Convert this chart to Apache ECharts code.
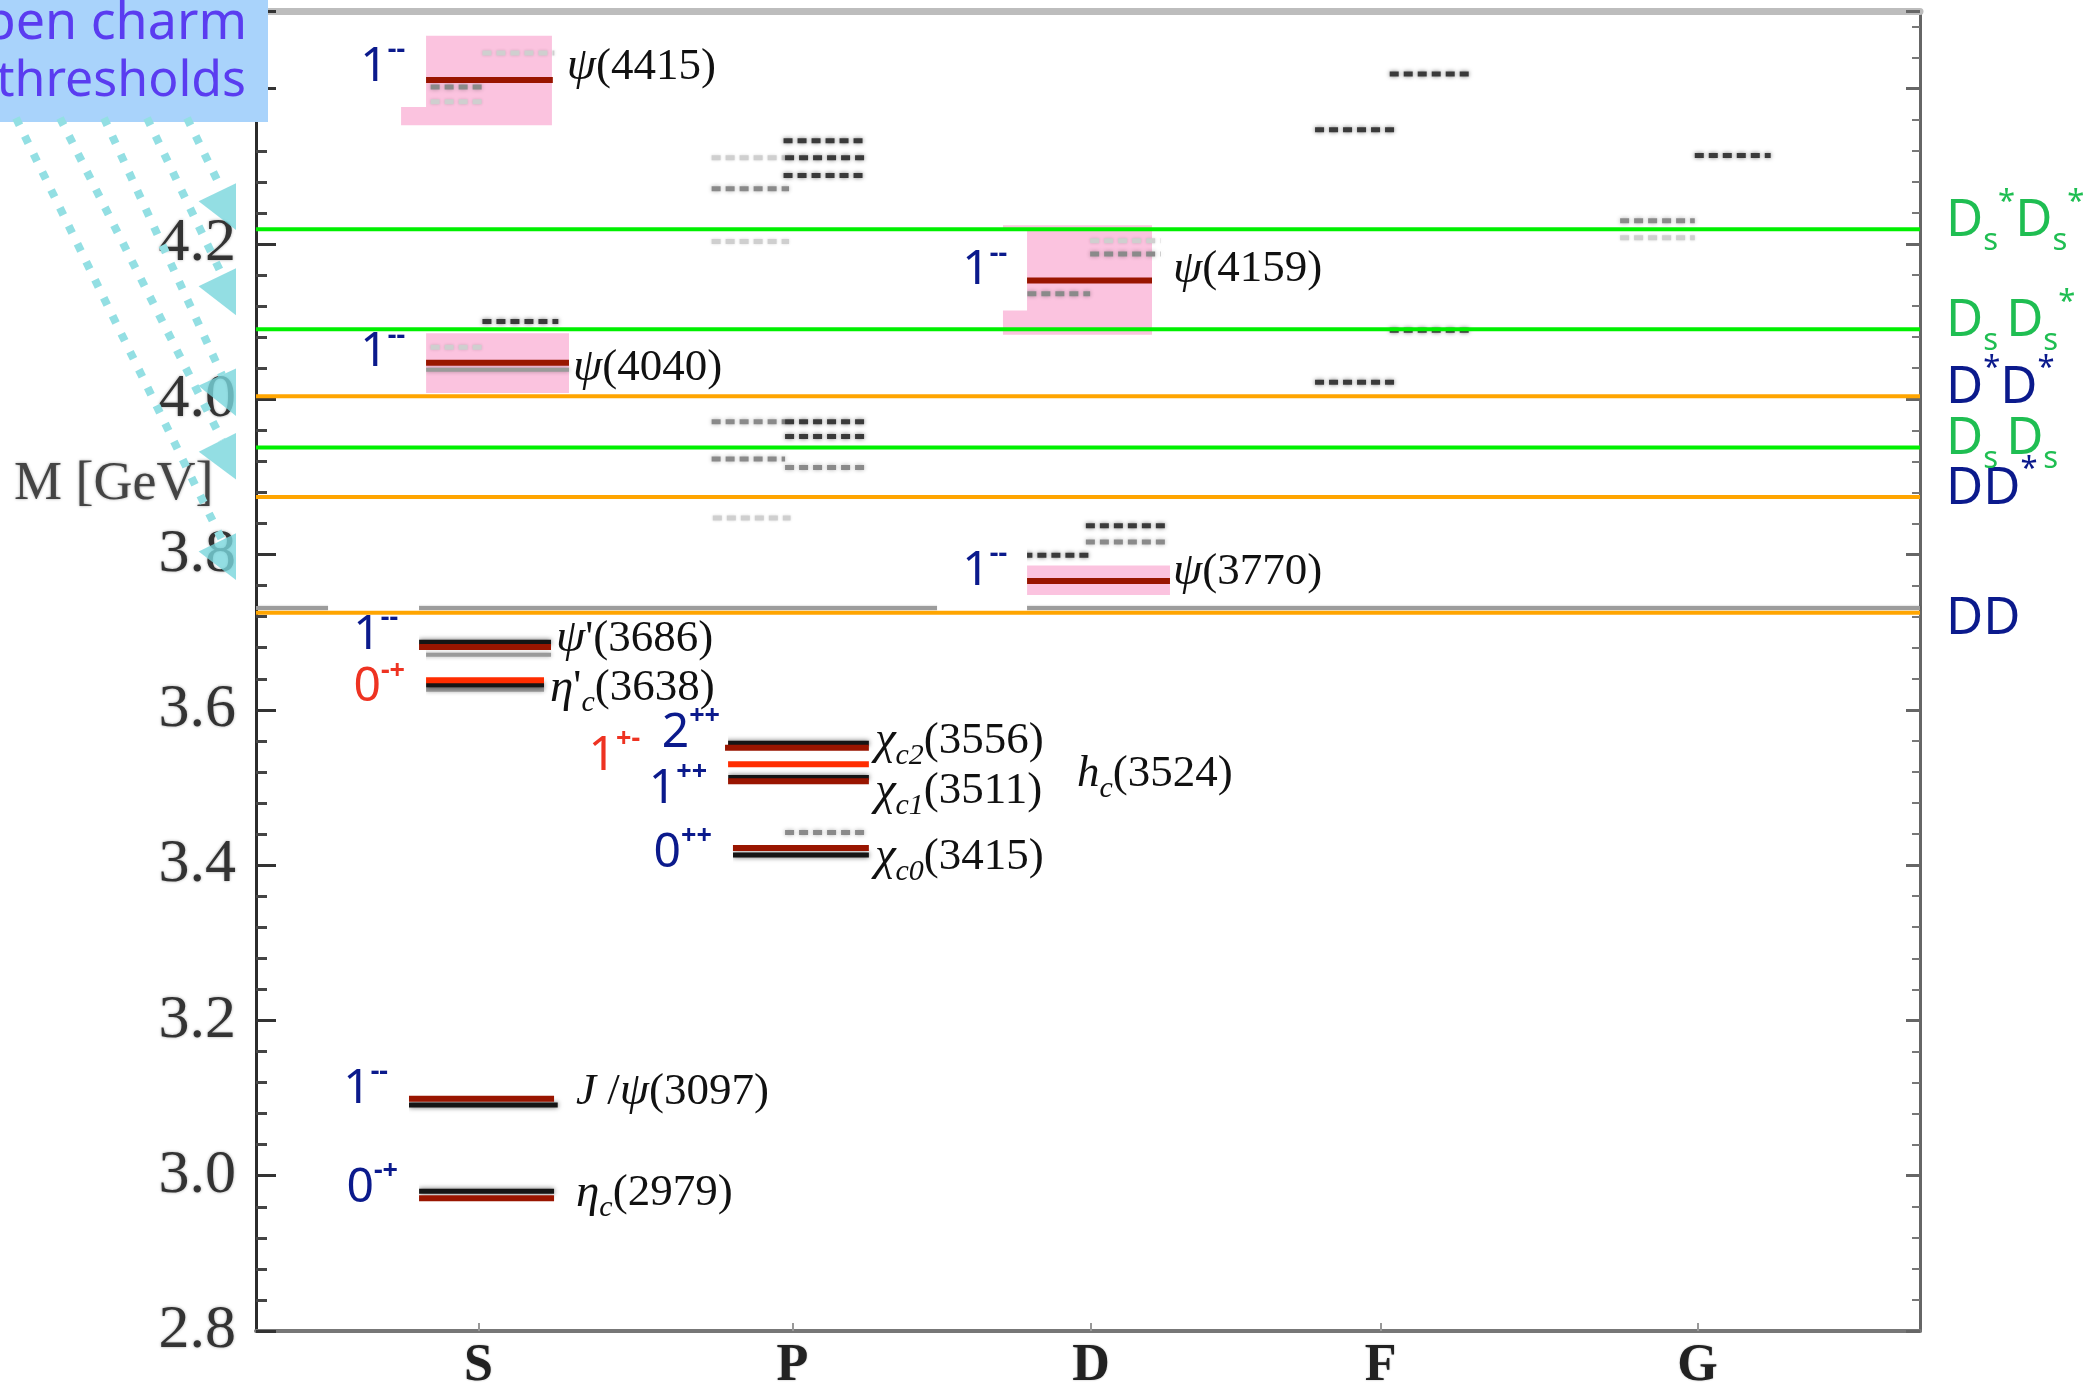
<!DOCTYPE html>
<html>
<head>
<meta charset="utf-8">
<title>Charmonium spectrum</title>
<script src="https://cdn.jsdelivr.net/npm/echarts@6.0.0/dist/echarts.min.js"></script>
<style>
  html, body { margin: 0; padding: 0; background: #fff; }
  #chart { width: 2090px; height: 1393px; }
</style>
</head>
<body>
<div id="chart"></div>
<script>
// orbital waves on the x axis and where their labels sit (S = 1 ... G = 5)
var waves = ['S', 'P', 'D', 'F', 'G'];
var waveAt = [1, 2.03, 3.01, 3.96, 5];

// observed charmonium states: x span in wave units, mass in GeV
var stateName = ['ηc(2979)', 'J/ψ(3097)', "η'c(3638)", "ψ'(3686)", 'ψ(4040)', 'ψ(4415)',
                 'χc0(3415)', 'χc1(3511)', 'hc(3524)', 'χc2(3556)', 'ψ(3770)', 'ψ(4159)'];
var stateJpc  = ['0-+', '1--', '0-+', '1--', '1--', '1--', '0++', '1++', '1+-', '2++', '1--', '1--'];
var stateFrom = [0.805, 0.772, 0.828, 0.805, 0.828, 0.828, 1.835, 1.819, 1.819, 1.809, 2.800, 2.800];
var stateTo   = [1.248, 1.248, 1.215, 1.238, 1.297, 1.244, 2.281, 2.281, 2.281, 2.281, 3.269, 3.210];
var stateMass = [2.971, 3.099, 3.638, 3.681, 4.047, 4.411, 3.422, 3.508, 3.530, 3.551, 3.766, 4.153];
var stateNew  = [0, 0, 1, 0, 0, 0, 0, 0, 1, 0, 0, 0];

// widths of the broad vector states: [x from, x to, mass low, mass high]
var widthBand = [
  [0.746, 1.241, 4.353, 4.468],
  [0.828, 1.297, 4.008, 4.085],
  [2.721, 3.210, 4.083, 4.224],
  [2.800, 3.269, 3.748, 3.786]
];

// model predictions under the observed lines: [x from, x to, mass]
var modelSolid = [
  [0.805, 1.248, 2.980], [0.772, 1.260, 3.091], [0.805, 1.238, 3.687], [0.828, 1.215, 3.632],
  [1.809, 2.281, 3.557], [1.819, 2.281, 3.513], [1.835, 2.281, 3.413]
];
var modelGrey = [[0.805, 1.238, 3.671], [0.828, 1.215, 3.626], [0.828, 1.297, 4.038]];

// predicted (unobserved) levels drawn as dashes: [x from, x to, mass]
var predDark = [
  [1.013, 1.262, 4.100], [2.001, 2.268, 4.333], [2.006, 2.268, 4.311], [2.001, 2.268, 4.288],
  [2.006, 2.268, 3.971], [2.006, 2.268, 3.952], [2.993, 3.260, 3.837], [2.788, 3.011, 3.799],
  [3.990, 4.257, 4.419], [3.745, 4.008, 4.347], [3.990, 4.257, 4.089], [3.745, 4.008, 4.022],
  [4.991, 5.240, 4.314]
];
var predMid = [
  [0.843, 1.022, 4.402], [1.765, 2.019, 4.271], [1.765, 2.006, 3.971], [1.765, 2.006, 3.923],
  [2.006, 2.268, 3.912], [2.006, 2.272, 3.442], [3.007, 3.238, 4.187], [2.801, 3.007, 4.136],
  [2.993, 3.260, 3.816], [4.746, 4.991, 4.230]
];
var predLight = [
  [1.013, 1.249, 4.446], [0.843, 1.022, 4.383], [0.843, 1.022, 4.067], [1.765, 2.006, 4.311],
  [1.765, 2.019, 4.203], [1.769, 2.024, 3.847], [3.007, 3.238, 4.204], [4.746, 4.991, 4.208]
];

// open charm thresholds (GeV)
var thresholdName = ['DD', 'DD*', 'Ds Ds', 'D*D*', 'Ds Ds*', 'Ds*Ds*'];
var thresholdMass = [3.725, 3.874, 3.938, 4.004, 4.090, 4.219];
var thresholdStrange = [0, 0, 1, 0, 1, 1];
var greyEdgeMass = 3.731;   // grey line of the underlying plot just above DD

var serif = '"Liberation Serif", "DejaVu Serif", serif';
var hand = '"Comic Sans MS", "Noto Sans", sans-serif';
var NAVY = '#0b1a8c', RED = '#ee3322', GREEN = '#1fbe52';

// label nudges (pixels) where the original placement differs from the default
var tweak = {
  "η'c(3638)": { jpcDy: 7, nameDy: 8 },
  'χc2(3556)': { jpcGap: 5, jpcDy: -15, nameDy: -7 },
  'χc1(3511)': { jpcDy: 8, nameDy: 10 },
  'χc0(3415)': { jpcDy: 5, nameDy: 9 },
  'hc(3524)':  { jpcGap: 88, jpcDy: -8, nameGap: 208, nameDy: 10 },
  'ψ(4415)':   { jpcDy: -13, nameGap: 14, nameDy: -13 },
  'ψ(4040)':   { nameGap: 4, nameDy: 5 },
  'ψ(4159)':   { jpcGap: 20, nameGap: 21, nameDy: -11 },
  'ψ(3770)':   { jpcGap: 20, nameGap: 3 },
  "ψ'(3686)":  { jpcDy: -12, nameGap: 5, nameDy: -8 },
  'J/ψ(3097)': { nameGap: 22, nameDy: -7 },
  'ηc(2979)':  { nameGap: 22, nameDy: -5 }
};

function richName(s) {
  var m = s.match(/^(J\/)?([ψηχh])(')?(c\d?)?(\(\d+\))$/);
  var out = '';
  if (m[1]) out += '{it|J}{rm| /}';
  out += m[2] === 'h' ? '{it|h}' : '{gr|' + m[2] + '}';
  if (m[3]) out += "{rm|'}";
  if (m[4]) out += '{sub|' + m[4] + '}';
  return out + '{rm|' + m[5] + '}';
}
function richJpc(s) {
  return '{n|' + s.charAt(0) + '}{p|' + s.slice(1) + '}';
}
function richPair(s) {
  return s.split('').map(function (c) {
    if (c === 'D') return '{d|D}';
    if (c === '*') return '{t|*}';
    return '{s|' + c + '}';
  }).join('');
}

var nameRich = {
  gr: { fontFamily: serif, fontStyle: 'italic', fontSize: 47, lineHeight: 60, verticalAlign: 'middle', fill: '#111' },
  it: { fontFamily: serif, fontStyle: 'italic', fontSize: 45, lineHeight: 60, verticalAlign: 'middle', fill: '#111' },
  rm: { fontFamily: serif, fontSize: 45, lineHeight: 60, verticalAlign: 'middle', fill: '#111' },
  sub: { fontFamily: serif, fontStyle: 'italic', fontSize: 30, lineHeight: 28, verticalAlign: 'bottom', fill: '#111' }
};
function jpcRich(color) {
  return {
    n: { fontFamily: hand, fontSize: 48, lineHeight: 60, verticalAlign: 'middle', fill: color },
    p: { fontFamily: hand, fontSize: 27, lineHeight: 40, verticalAlign: 'top', fill: color, fontWeight: 'bold' }
  };
}
function pairRich(color) {
  return {
    d: { fontFamily: hand, fontSize: 51, lineHeight: 70, verticalAlign: 'middle', fill: color },
    s: { fontFamily: hand, fontSize: 31, lineHeight: 30, verticalAlign: 'bottom', fill: color },
    t: { fontFamily: hand, fontSize: 31, lineHeight: 36, verticalAlign: 'top', fill: color }
  };
}

function segmentSeries(rows, style, z) {
  return {
    type: 'custom', z: z, silent: true,
    data: rows,
    encode: { x: [0, 1], y: 2 },
    renderItem: function (params, api) {
      var a = api.coord([api.value(0), api.value(2)]);
      var b = api.coord([api.value(1), api.value(2)]);
      return { type: 'line', shape: { x1: a[0], y1: a[1], x2: b[0], y2: b[1] }, style: style };
    }
  };
}

var stateRows = stateMass.map(function (m, i) { return [stateFrom[i], stateTo[i], m]; });

function jpcPlace(i, api) {
  var a = api.coord([stateFrom[i], stateMass[i]]);
  var t = tweak[stateName[i]] || {};
  return [a[0] - (t.jpcGap != null ? t.jpcGap : 21), a[1] + (t.jpcDy != null ? t.jpcDy : -10), a[0]];
}

var chart = echarts.init(document.getElementById('chart'), null, { renderer: 'canvas' });

var series = [
  // resonance widths
  {
    type: 'custom', z: 1, silent: true,
    data: widthBand,
    encode: { x: [0, 1], y: [2, 3] },
    renderItem: function (params, api) {
      var p1 = api.coord([api.value(0), api.value(3)]);
      var p2 = api.coord([api.value(1), api.value(2)]);
      return { type: 'rect', shape: { x: p1[0], y: p1[1], width: p2[0] - p1[0], height: p2[1] - p1[1] },
               style: { fill: '#fbc3df' } };
    }
  },
  segmentSeries(predLight, { stroke: '#cfcfcf', lineWidth: 5, lineDash: [9, 5], shadowBlur: 3, shadowColor: 'rgba(0,0,0,0.15)' }, 2),
  segmentSeries(predMid, { stroke: '#8a8a8a', lineWidth: 5, lineDash: [9, 5], shadowBlur: 4, shadowColor: 'rgba(0,0,0,0.3)' }, 2),
  segmentSeries(predDark, { stroke: '#3a3a3a', lineWidth: 5, lineDash: [9, 5], shadowBlur: 4, shadowColor: 'rgba(0,0,0,0.5)' }, 2),
  segmentSeries(modelGrey, { stroke: '#9a9a9a', lineWidth: 4, shadowBlur: 4, shadowColor: 'rgba(0,0,0,0.3)' }, 2),
  segmentSeries(modelSolid, { stroke: '#151515', lineWidth: 5, shadowBlur: 5, shadowColor: 'rgba(0,0,0,0.6)' }, 2),
  segmentSeries([[0.27, 5.73, greyEdgeMass]], { stroke: '#9c9c9c', lineWidth: 4, shadowBlur: 2, shadowColor: 'rgba(0,0,0,0.3)' }, 2),
  // white boxes behind the J^PC labels
  {
    type: 'custom', z: 3, silent: true,
    data: stateRows,
    encode: { x: [0, 1], y: 2 },
    renderItem: function (params, api) {
      var p = jpcPlace(params.dataIndex, api);
      return { type: 'rect', shape: { x: p[0] - 70, y: p[1] - 40, width: p[2] - p[0] + 70, height: 80 },
               style: { fill: '#ffffff' } };
    }
  },
  // observed levels
  {
    type: 'custom', z: 4, silent: true,
    data: stateRows,
    encode: { x: [0, 1], y: 2 },
    renderItem: function (params, api) {
      var i = params.dataIndex;
      var a = api.coord([stateFrom[i], stateMass[i]]);
      var b = api.coord([stateTo[i], stateMass[i]]);
      return { type: 'line', shape: { x1: a[0], y1: a[1], x2: b[0], y2: b[1] },
               style: { stroke: stateNew[i] ? '#ff2d00' : '#991500', lineWidth: 6 } };
    }
  },
  // thresholds
  {
    type: 'custom', z: 5, silent: true,
    data: thresholdMass.map(function (m) { return [0.27, 5.73, m]; }),
    encode: { x: [0, 1], y: 2 },
    renderItem: function (params, api) {
      var i = params.dataIndex;
      var cs = params.coordSys;
      var y = api.coord([3, thresholdMass[i]])[1];
      var lineColor = thresholdStrange[i] ? '#00f000' : '#ffa500';
      var textColor = thresholdStrange[i] ? GREEN : NAVY;
      return { type: 'group', children: [
        { type: 'line', shape: { x1: cs.x, y1: y, x2: cs.x + cs.width, y2: y }, style: { stroke: lineColor, lineWidth: 4 } },
        { type: 'text', x: cs.x + cs.width + 26, y: y + (thresholdName[i] === 'DD' ? 7 : -8),
          style: { text: richPair(thresholdName[i]), align: 'left', verticalAlign: 'middle', rich: pairRich(textColor) } }
      ] };
    }
  },
  // J^PC and state names
  {
    type: 'custom', z: 6, silent: true,
    data: stateRows,
    encode: { x: [0, 1], y: 2 },
    renderItem: function (params, api) {
      var i = params.dataIndex;
      var p = jpcPlace(i, api);
      var b = api.coord([stateTo[i], stateMass[i]]);
      var t = tweak[stateName[i]] || {};
      var jColor = stateNew[i] ? RED : NAVY;
      return { type: 'group', children: [
        { type: 'text', x: p[0], y: p[1],
          style: { text: richJpc(stateJpc[i]), align: 'right', verticalAlign: 'middle', rich: jpcRich(jColor) } },
        { type: 'text', x: b[0] + (t.nameGap != null ? t.nameGap : 6), y: b[1] + (t.nameDy != null ? t.nameDy : -9),
          style: { text: richName(stateName[i]), align: 'left', verticalAlign: 'middle', rich: nameRich } }
      ] };
    }
  }
];

// "open charm thresholds" call-out with dotted arrows
var arrowFrom = [[187, 118], [147, 118], [104, 118], [60, 118], [16, 118]];
var arrowTo = [[222, 190], [222, 275], [222, 375], [222, 440], [222, 540]];
var CYAN = '#93dfe3';

function clipLeftOf(points, xMax) {
  var out = [];
  for (var i = 0; i < points.length; i++) {
    var p = points[i], q = points[(i + 1) % points.length];
    var pin = p[0] <= xMax, qin = q[0] <= xMax;
    if (pin) out.push(p);
    if (pin !== qin) {
      var t = (xMax - p[0]) / (q[0] - p[0]);
      out.push([xMax, p[1] + t * (q[1] - p[1])]);
    }
  }
  return out;
}

var graphics = [];
arrowFrom.forEach(function (s, k) {
  var e = arrowTo[k];
  var dx = e[0] - s[0], dy = e[1] - s[1];
  var len = Math.sqrt(dx * dx + dy * dy);
  var ux = dx / len, uy = dy / len;
  graphics.push({ type: 'line', z: 101, silent: true,
    shape: { x1: s[0], y1: s[1], x2: e[0], y2: e[1] },
    style: { stroke: CYAN, lineWidth: 8, lineDash: [8, 12] } });
  var tri = [
    [e[0] - 26 * uy, e[1] + 26 * ux],
    [e[0] + 52 * ux, e[1] + 52 * uy],
    [e[0] + 26 * uy, e[1] - 26 * ux]
  ];
  graphics.push({ type: 'polygon', z: 101, silent: true,
    shape: { points: clipLeftOf(tri, 236) }, style: { fill: 'rgba(120,214,220,0.8)' } });
});
graphics.push(
  { type: 'rect', z: 100, silent: true, shape: { x: 0, y: 0, width: 268, height: 122 }, style: { fill: '#a9d3fb' } },
  { type: 'text', z: 102, silent: true, x: 247, y: 24,
    style: { text: 'open charm', fontFamily: hand, fontSize: 52, fill: '#5a3cf0', align: 'right', verticalAlign: 'middle' } },
  { type: 'text', z: 102, silent: true, x: 246, y: 82,
    style: { text: 'thresholds', fontFamily: hand, fontSize: 50, fill: '#5a3cf0', align: 'right', verticalAlign: 'middle' } },
  { type: 'text', z: 99, silent: true, x: 14, y: 485,
    style: { text: 'M [GeV]', fontFamily: serif, fontSize: 54, fill: '#444', align: 'left', verticalAlign: 'middle',
             textShadowBlur: 3, textShadowColor: 'rgba(0,0,0,0.35)' } }
);

chart.setOption({
  animation: false,
  backgroundColor: '#ffffff',
  grid: { left: 256, right: 170, top: 11, bottom: 62 },
  xAxis: [{
    type: 'value', min: 0.27, max: 5.73,
    axisLine: { show: true, onZero: false, lineStyle: { color: '#777', width: 4 } },
    axisTick: { show: true, inside: true, length: 8, customValues: waveAt, lineStyle: { color: '#999', width: 2 } },
    axisLabel: {
      customValues: waveAt,
      formatter: function (v) { return waves[waveAt.indexOf(v)]; },
      fontFamily: serif, fontWeight: 'bold', fontSize: 52, color: '#222', margin: 10,
      textShadowBlur: 2, textShadowColor: 'rgba(0,0,0,0.3)'
    },
    splitLine: { show: false }
  }, {
    type: 'value', position: 'top', min: 0.27, max: 5.73,
    axisLine: { show: true, onZero: false, lineStyle: { color: '#bdbdbd', width: 7 } },
    axisTick: { show: false }, axisLabel: { show: false }, splitLine: { show: false }
  }],
  yAxis: [{
    type: 'value', min: 2.8, max: 4.5, interval: 0.2,
    axisLine: { show: true, onZero: false, lineStyle: { color: '#2b2b2b', width: 3 } },
    axisTick: { show: true, inside: true, length: 20, lineStyle: { color: '#333', width: 3 } },
    minorTick: { show: true, splitNumber: 5, length: 11, lineStyle: { color: '#444', width: 3 } },
    splitLine: { show: false },
    axisLabel: {
      showMaxLabel: false, margin: 20, color: '#333', fontFamily: serif, fontSize: 62,
      textShadowBlur: 3, textShadowColor: 'rgba(0,0,0,0.35)',
      formatter: function (v) { return v.toFixed(1); }
    }
  }, {
    type: 'value', position: 'right', min: 2.8, max: 4.5, interval: 0.2,
    axisLine: { show: true, onZero: false, lineStyle: { color: '#666', width: 3 } },
    axisTick: { show: true, inside: true, length: 14, lineStyle: { color: '#666', width: 3 } },
    minorTick: { show: true, splitNumber: 5, length: 8, lineStyle: { color: '#777', width: 2 } },
    axisLabel: { show: false }, splitLine: { show: false }
  }],
  series: series,
  graphic: { elements: graphics }
});
</script>
</body>
</html>
